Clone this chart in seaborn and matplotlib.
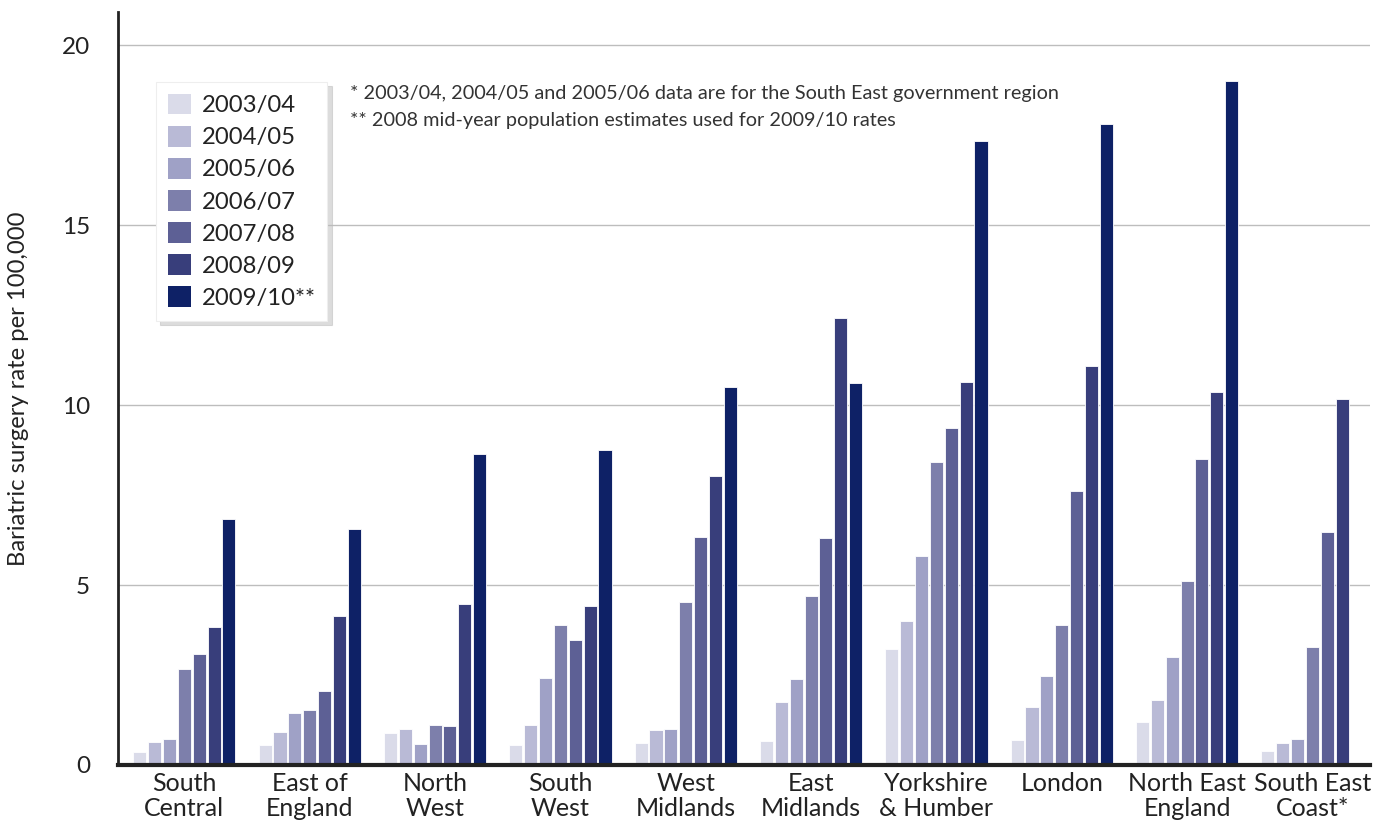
import numpy as np
import pandas as pd
import matplotlib
matplotlib.use("Agg")
import matplotlib.pyplot as plt
import seaborn as sns

# ---- data ----
regions = ["South\nCentral", "East of\nEngland", "North\nWest", "South\nWest",
           "West\nMidlands", "East\nMidlands", "Yorkshire\n& Humber", "London",
           "North East\nEngland", "South East\nCoast*"]
years = ["2003/04", "2004/05", "2005/06", "2006/07", "2007/08", "2008/09", "2009/10**"]

rate_0304 = [0.37, 0.56, 0.88, 0.56, 0.62, 0.67, 3.22, 0.70, 1.20, 0.38]
rate_0405 = [0.63, 0.91, 1.00, 1.10, 0.98, 1.75, 4.00, 1.62, 1.80, 0.62]
rate_0506 = [0.71, 1.45, 0.58, 2.42, 1.01, 2.38, 5.80, 2.48, 3.00, 0.72]
rate_0607 = [2.68, 1.52, 1.11, 3.90, 4.52, 4.70, 8.42, 3.90, 5.10, 3.27]
rate_0708 = [3.08, 2.05, 1.07, 3.47, 6.33, 6.30, 9.37, 7.62, 8.50, 6.47]
rate_0809 = [3.83, 4.13, 4.46, 4.43, 8.03, 12.42, 10.63, 11.08, 10.37, 10.17]
rate_0910 = [6.83, 6.57, 8.65, 8.75, 10.50, 10.60, 17.33, 17.80, 19.00, np.nan]

palette = ["#dadbe9", "#b9bad6", "#9fa1c6", "#7d7fab", "#5d6095", "#383e7b", "#0e2166"]

series = [rate_0304, rate_0405, rate_0506, rate_0607, rate_0708, rate_0809, rate_0910]
rows = []
for yr, vals in zip(years, series):
    for reg, v in zip(regions, vals):
        rows.append({"Region": reg, "Year": yr, "Rate": v})
df = pd.DataFrame(rows)

sns.set_theme(style="white")
plt.rcParams["font.family"] = ["Lato", "DejaVu Sans"]
plt.rcParams["text.color"] = "#222222"

fig = plt.figure(figsize=(13.86, 8.23), dpi=100)
ax = fig.add_axes([0.0851, 0.0705, 0.9034, 0.9149])

sns.barplot(data=df, x="Region", y="Rate", hue="Year", order=regions,
            hue_order=years, palette=palette, width=0.83, gap=0.12,
            saturation=1, edgecolor="white", linewidth=0.6, ax=ax, zorder=3)

ax.set_ylim(0, 20.92)
ax.set_xlim(-0.53, 9.46)
ax.set_yticks([0, 5, 10, 15, 20])
ax.yaxis.grid(True, color="#bdbdbd", linewidth=1)
ax.set_axisbelow(True)
ax.tick_params(axis="both", length=0, colors="#222222")
ax.tick_params(axis="y", pad=20, labelsize=17.5)
ax.tick_params(axis="x", pad=5, labelsize=18)
ax.set_xlabel("")
ax.set_ylabel("Bariatric surgery rate per 100,000", fontsize=17.2, labelpad=24,
              color="#222222")
for lab in ax.get_xticklabels():
    lab.set_linespacing(1.12)

for s in ["top", "right"]:
    ax.spines[s].set_visible(False)
ax.spines["left"].set_color("#222222")
ax.spines["left"].set_linewidth(2)
ax.spines["bottom"].set_color("#222222")
ax.spines["bottom"].set_linewidth(3)
ax.spines["bottom"].set_zorder(5)

leg = ax.legend(loc="upper left", bbox_to_anchor=(0.104, 0.915),
                bbox_transform=fig.transFigure, frameon=True, fontsize=17.2,
                handlelength=0.95, handleheight=0.95, handletextpad=0.45,
                labelspacing=0.4, borderpad=0.5, fancybox=False,
                shadow={"ox": 3, "oy": -3, "color": "#bbbbbb", "alpha": 0.5})
leg.get_frame().set_edgecolor("#eeeeee")
leg.get_frame().set_linewidth(0.8)
for h in leg.legend_handles:
    h.set_edgecolor("none")

fig.text(0.2525, 0.886,
         "* 2003/04, 2004/05 and 2005/06 data are for the South East government region",
         fontsize=14.3, va="center", ha="left", color="#333333")
fig.text(0.2525, 0.853,
         "** 2008 mid-year population estimates used for 2009/10 rates",
         fontsize=14.3, va="center", ha="left", color="#333333")

fig.savefig("out.png", dpi=100)
